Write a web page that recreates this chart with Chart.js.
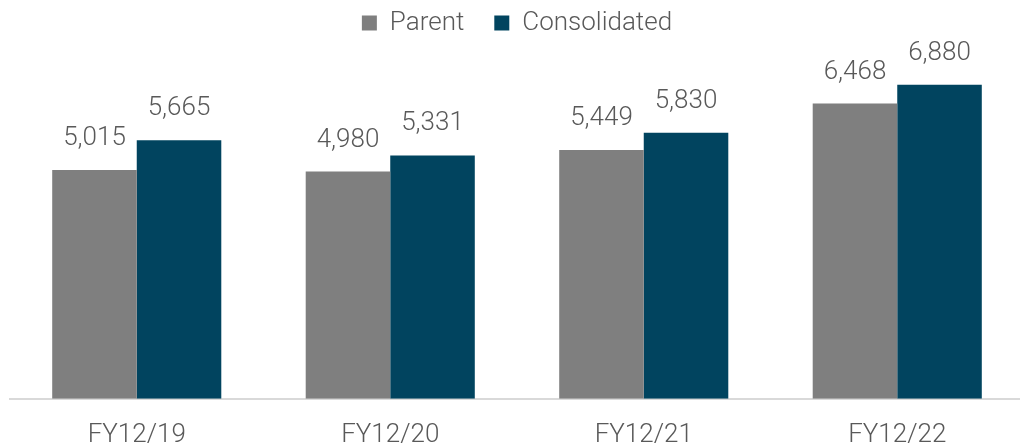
<!DOCTYPE html>
<html>
<head>
<meta charset="utf-8">
<script src="https://cdn.jsdelivr.net/npm/chart.js@4/dist/chart.umd.min.js"></script>
<style>
  html, body { margin: 0; padding: 0; background: #fff; overflow: hidden; }
  #wrap { width: 1030px; height: 447px; }
</style>
</head>
<body>
<div id="wrap"><canvas id="salesChart"></canvas></div>
<script>
// data
var years        = ['FY12/19', 'FY12/20', 'FY12/21', 'FY12/22'];
var parent       = [5015, 4980, 5449, 6468];
var consolidated = [5665, 5331, 5830, 6880];

var textColor = '#595959';
var fontName  = 'Roboto, "Liberation Sans", sans-serif';

// numbers above the bars
var barValues = {
  id: 'barValues',
  afterDatasetsDraw: function(chart) {
    var ctx = chart.ctx;
    ctx.save();
    ctx.font = '300 26px ' + fontName;
    ctx.fillStyle = textColor;
    ctx.textAlign = 'center';
    ctx.textBaseline = 'alphabetic';
    chart.data.datasets.forEach(function(ds, i) {
      chart.getDatasetMeta(i).data.forEach(function(bar, j) {
        ctx.fillText(ds.data[j].toLocaleString('en-US'), bar.x, bar.y - 25);
      });
    });
    ctx.restore();
  }
};

var ctx = document.getElementById('salesChart').getContext('2d');
var salesChart = new Chart(ctx, {
  type: 'bar',
  data: {
    labels: years,
    datasets: [{
      label: 'Parent',
      data: parent,
      backgroundColor: '#7f7f7f'
    }, {
      label: 'Consolidated',
      data: consolidated,
      backgroundColor: '#01445f'
    }]
  },
  options: {
    responsive: true,
    maintainAspectRatio: false,
    animation: false,
    layout: { padding: { left: 10, right: 6, top: -20, bottom: -25 } },
    categoryPercentage: 0.667,
    barPercentage: 1.0,
    plugins: {
      legend: {
        position: 'top',
        labels: {
          boxWidth: 15,
          boxHeight: 15,
          padding: 30,
          color: textColor,
          font: { family: fontName, size: 26, weight: 300 }
        }
      },
      tooltip: { enabled: false }
    },
    scales: {
      x: {
        grid: { display: false, drawTicks: false },
        border: { display: true, color: '#d9d9d9', width: 2 },
        ticks: {
          padding: 21,
          color: textColor,
          font: { family: fontName, size: 26, weight: 300 }
        }
      },
      y: {
        display: false,
        min: 0,
        max: 7730
      }
    }
  },
  plugins: [barValues]
});
</script>
</body>
</html>
